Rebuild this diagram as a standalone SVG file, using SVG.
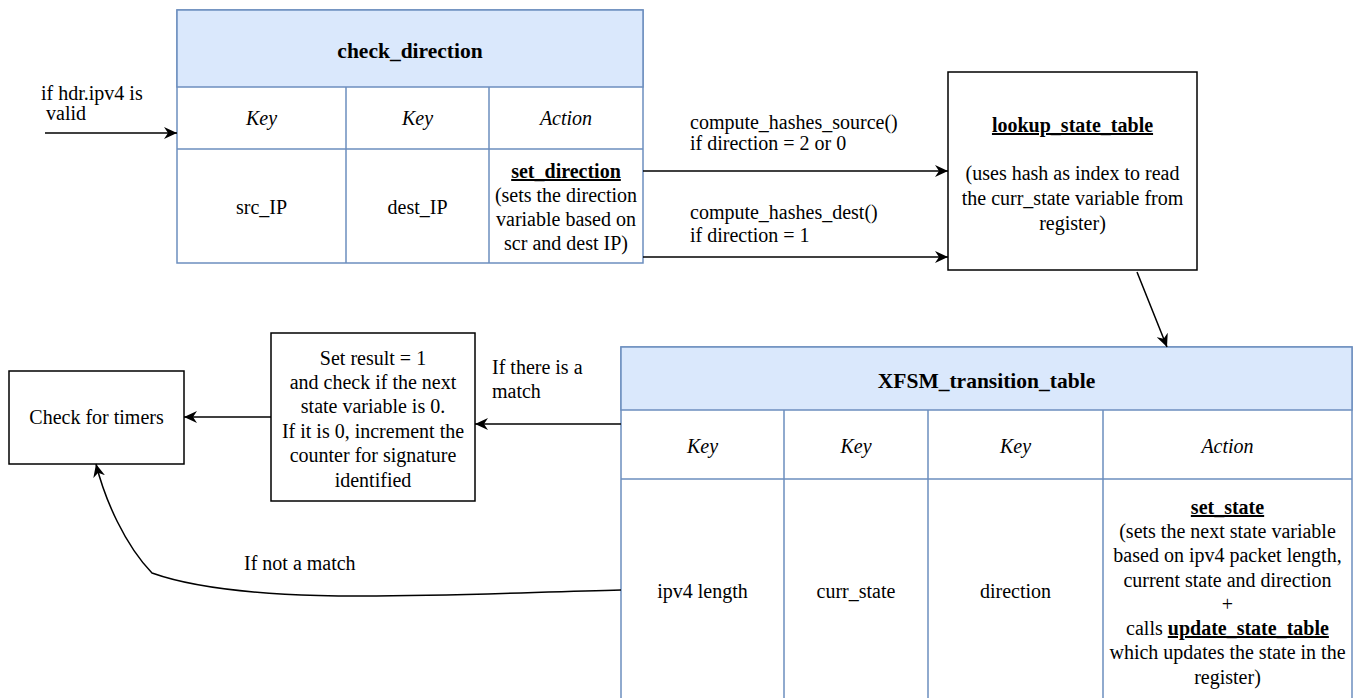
<svg xmlns="http://www.w3.org/2000/svg" width="1359" height="698" viewBox="0 0 1359 698">
<style>
text{font-family:'Liberation Serif','DejaVu Serif',serif;font-size:20px;fill:#000}
.c{text-anchor:middle}
.b{font-weight:bold}
.t{font-weight:bold;font-size:21.5px}
.i{font-style:italic}
.u{text-decoration:underline}
.tbl{fill:#fff;stroke:#6c8ebf;stroke-width:1.5}
.hd{fill:#dae8fc;stroke:#6c8ebf;stroke-width:1.5}
.ln{stroke:#6c8ebf;stroke-width:1.5;fill:none}
.box{fill:#fff;stroke:#000;stroke-width:1.5}
.e{stroke:#000;stroke-width:1.5;fill:none;marker-end:url(#ah)}
</style>
<defs>
<marker id="ah" markerUnits="userSpaceOnUse" markerWidth="14" markerHeight="12" viewBox="0 0 14 12" refX="13" refY="6" orient="auto">
<path d="M0,0 L13,6 L0,12 L4,6 z" fill="#000"/>
</marker>
</defs>
<rect width="1359" height="698" fill="#fff"/>

<g id="check_direction">
<rect class="tbl" x="177" y="10" width="466" height="253"/>
<rect class="hd" x="177" y="10" width="466" height="77"/>
<path class="ln" d="M177 149H643M346 87V263M489 87V263"/>
<text class="c t" x="410" y="58">check_direction</text>
<text class="c i" x="261.5" y="125">Key</text>
<text class="c i" x="417.5" y="125">Key</text>
<text class="c i" x="566" y="125">Action</text>
<text class="c" x="261.5" y="214">src_IP</text>
<text class="c" x="417.5" y="214">dest_IP</text>
<text class="c b u" x="566" y="178">set_direction</text>
<text class="c" x="566" y="202">(sets the direction</text>
<text class="c" x="566" y="226">variable based on</text>
<text class="c" x="566" y="250">scr and dest IP)</text>
</g>

<g id="lookup_state_table">
<rect class="box" x="948" y="72" width="249" height="198"/>
<text class="c b u" x="1072.5" y="132">lookup_state_table</text>
<text class="c" x="1072.5" y="180">(uses hash as index to read</text>
<text class="c" x="1072.5" y="205">the curr_state variable from</text>
<text class="c" x="1072.5" y="230">register)</text>
</g>

<g id="xfsm_transition_table">
<rect class="tbl" x="621" y="347" width="731" height="365"/>
<rect class="hd" x="621" y="347" width="731" height="63"/>
<path class="ln" d="M621 479H1352M784 410V712M928 410V712M1103 410V712"/>
<text class="c t" x="986.5" y="388">XFSM_transition_table</text>
<text class="c i" x="702.5" y="453">Key</text>
<text class="c i" x="856" y="453">Key</text>
<text class="c i" x="1015.5" y="453">Key</text>
<text class="c i" x="1227.5" y="453">Action</text>
<text class="c" x="702.5" y="598">ipv4 length</text>
<text class="c" x="856" y="598">curr_state</text>
<text class="c" x="1015.5" y="598">direction</text>
<text class="c b u" x="1227.5" y="514">set_state</text>
<text class="c" x="1227.5" y="538">(sets the next state variable</text>
<text class="c" x="1227.5" y="562">based on ipv4 packet length,</text>
<text class="c" x="1227.5" y="587">current state and direction</text>
<text class="c" x="1227.5" y="611">+</text>
<text class="c" x="1227.5" y="635">calls <tspan class="b u">update_state_table</tspan></text>
<text class="c" x="1227.5" y="659">which updates the state in the</text>
<text class="c" x="1227.5" y="684">register)</text>
</g>

<g id="set_result">
<rect class="box" x="271" y="333" width="204" height="168"/>
<text class="c" x="373" y="365">Set result = 1</text>
<text class="c" x="373" y="389">and check if the next</text>
<text class="c" x="373" y="413">state variable is 0.</text>
<text class="c" x="373" y="438">If it is 0, increment the</text>
<text class="c" x="373" y="462">counter for signature</text>
<text class="c" x="373" y="487">identified</text>
</g>

<g id="check_for_timers">
<rect class="box" x="9" y="371" width="175" height="93"/>
<text class="c" x="96.5" y="424">Check for timers</text>
</g>

<g id="connectors">
<path class="e" d="M45 133H177"/>
<path class="e" d="M643 171H948"/>
<path class="e" d="M643 257H948"/>
<path class="e" d="M1137 272L1167 347"/>
<path class="e" d="M621 424H475"/>
<path class="e" d="M271 417H184"/>
<path class="e" d="M621 590C450 594 250 608 152 573C125 545 105 500 96 464"/>
<text x="41" y="100">if hdr.ipv4 is</text>
<text x="46" y="120">valid</text>
<text x="690" y="129">compute_hashes_source()</text>
<text x="690" y="150">if direction = 2 or 0</text>
<text x="690" y="219">compute_hashes_dest()</text>
<text x="690" y="242">if direction = 1</text>
<text x="492" y="374">If there is a</text>
<text x="492" y="398">match</text>
<text x="244" y="570">If not a match</text>
</g>
</svg>
